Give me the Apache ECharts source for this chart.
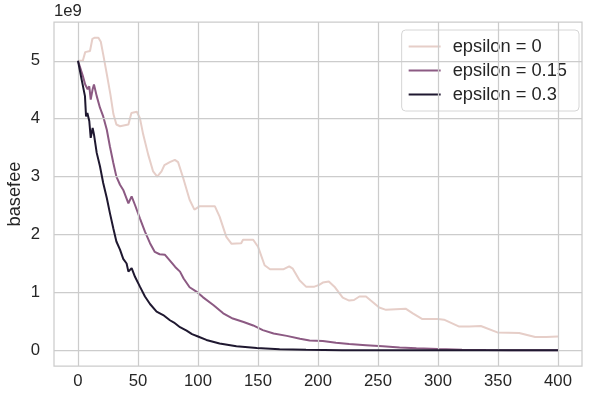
<!DOCTYPE html>
<html>
<head>
<meta charset="utf-8">
<script src="https://cdn.jsdelivr.net/npm/echarts@6/dist/echarts.min.js"></script>
<style>html,body{margin:0;padding:0;background:#fff}#c{width:600px;height:394px}</style>
</head>
<body>
<div id="c"></div>
<script>
// Data (basefee in units of 1e9)
const seriesNames = ['epsilon = 0', 'epsilon = 0.15', 'epsilon = 0.3'];
const xTicks = [0, 50, 100, 150, 200, 250, 300, 350, 400];
const yTicks = [0, 1, 2, 3, 4, 5];

const eps0X = [0, 4, 6, 10, 12, 14, 17, 19, 21, 24, 27, 29.5, 32, 35, 42, 44.5, 49, 51.6, 54.3, 58.5, 62.6, 66, 69.6, 72, 76.5, 80.7, 83.4, 87.6, 93, 97, 101.5, 114, 118, 123.6, 128, 136, 137.5, 146, 150, 155.5, 160, 171, 176, 179, 184.6, 190, 197, 201, 204, 209, 213.7, 220.6, 226, 230, 234.5, 240, 244, 251, 256.7, 273, 279, 287, 300, 305, 317.7, 326, 335.7, 349.5, 367.6, 381, 390, 400];
const eps0Y = [5.0, 5.0, 5.15, 5.17, 5.38, 5.4, 5.4, 5.33, 5.11, 4.77, 4.42, 4.08, 3.9, 3.87, 3.9, 4.1, 4.12, 4.01, 3.73, 3.38, 3.09, 3.0, 3.09, 3.2, 3.25, 3.29, 3.25, 2.98, 2.6, 2.43, 2.49, 2.49, 2.31, 1.96, 1.84, 1.85, 1.91, 1.91, 1.79, 1.47, 1.40, 1.40, 1.45, 1.41, 1.21, 1.10, 1.10, 1.13, 1.17, 1.19, 1.10, 0.91, 0.86, 0.87, 0.93, 0.93, 0.86, 0.74, 0.70, 0.72, 0.64, 0.54, 0.54, 0.53, 0.41, 0.41, 0.42, 0.31, 0.30, 0.23, 0.23, 0.24];

const eps15X = [0, 4, 6, 8, 9.4, 10.6, 12.2, 13.3, 15.6, 18.3, 21, 24, 26.6, 29.4, 32, 35, 37.7, 42, 44.7, 47.5, 51.6, 55.8, 60, 64, 68, 72.5, 76.6, 81, 85, 88, 93, 99, 104, 113, 121, 129, 138, 146, 154, 163, 174, 185, 193, 204, 215, 226, 240, 254, 268, 282, 300, 320, 340, 360, 380, 400];
const eps15Y = [5.0, 4.74, 4.59, 4.51, 4.56, 4.33, 4.51, 4.59, 4.39, 4.19, 4.04, 3.81, 3.52, 3.24, 3.0, 2.86, 2.77, 2.54, 2.66, 2.51, 2.28, 2.05, 1.85, 1.70, 1.66, 1.65, 1.55, 1.44, 1.36, 1.24, 1.09, 1.01, 0.92, 0.78, 0.64, 0.55, 0.49, 0.43, 0.35, 0.29, 0.25, 0.20, 0.17, 0.16, 0.13, 0.11, 0.09, 0.07, 0.05, 0.035, 0.022, 0.012, 0.007, 0.004, 0.002, 0.001];

const eps30X = [0, 3, 5.8, 6.7, 7.8, 9.4, 10.6, 12.2, 13.3, 15.6, 18.3, 21, 24, 26.6, 29.4, 32, 35, 37.7, 40.5, 42, 44.7, 47.5, 51.6, 55.8, 60, 65.5, 71, 76.6, 80, 85, 90.5, 95, 100, 107, 118, 132, 149, 168, 190, 220, 260, 300, 400];
const eps30Y = [5.0, 4.68, 4.39, 4.04, 4.1, 3.96, 3.67, 3.84, 3.73, 3.41, 3.18, 2.89, 2.63, 2.37, 2.11, 1.88, 1.74, 1.58, 1.5, 1.36, 1.42, 1.27, 1.10, 0.93, 0.8, 0.67, 0.61, 0.52, 0.48, 0.40, 0.34, 0.28, 0.24, 0.18, 0.12, 0.07, 0.04, 0.02, 0.01, 0.004, 0.001, 0.0005, 0];

const colors = ['#e6cec8', '#8c5a83', '#1f1830'];
const textColor = '#262626';
const font = 'Liberation Sans, Arial, sans-serif';

function pairs(xs, ys) { return xs.map((x, i) => [x, ys[i]]); }

const chart = echarts.init(document.getElementById('c'), null, {renderer: 'canvas'});
const gridLines = xTicks.map(v => ({xAxis: v})).concat(yTicks.map(v => ({yAxis: v})));

chart.setOption({
  animation: false,
  backgroundColor: '#ffffff',
  grid: {left: 54, right: 18, top: 22, bottom: 28, containLabel: false, outerBoundsMode: 'none',
         show: true, borderColor: '#cccccc', borderWidth: 1.25, backgroundColor: 'transparent'},
  graphic: [{type: 'text', left: 54, top: 3, style: {text: '1e9', fontSize: 16.7, fontFamily: font, fill: textColor}}],
  xAxis: {
    type: 'value', min: -20, max: 420,
    axisLine: {show: false}, axisTick: {show: false}, splitLine: {show: false},
    axisLabel: {customValues: xTicks, fontSize: 16.7, fontFamily: font, color: textColor, margin: 7}
  },
  yAxis: {
    type: 'value', min: -0.27, max: 5.67,
    name: 'basefee', nameLocation: 'middle', nameGap: 30, nameMoveOverlap: false,
    nameTextStyle: {fontSize: 18.3, fontFamily: font, color: textColor},
    axisLine: {show: false}, axisTick: {show: false}, splitLine: {show: false},
    axisLabel: {customValues: yTicks, fontSize: 16.7, fontFamily: font, color: textColor, margin: 14}
  },
  legend: {
    data: seriesNames, orient: 'vertical', right: 21, top: 30,
    icon: 'rect', itemWidth: 32, itemHeight: 2, itemGap: 3,
    padding: [6, 12, 6, 7],
    backgroundColor: 'rgba(255,255,255,0.85)', borderColor: '#d6d6d6', borderWidth: 1, borderRadius: 4,
    textStyle: {fontSize: 18.3, fontFamily: font, color: textColor, padding: [0, 0, 0, 7], lineHeight: 21}
  },
  series: [
    {type: 'line', name: '_grid', data: [], silent: true, z: 1, showSymbol: false,
     markLine: {silent: true, symbol: ['none', 'none'], label: {show: false}, animation: false,
       lineStyle: {color: '#cccccc', width: 1.25, type: 'solid'}, emphasis: {disabled: true}, data: gridLines}},
    {type: 'line', name: seriesNames[0], data: pairs(eps0X, eps0Y), showSymbol: false, z: 3, color: colors[0], lineStyle: {color: colors[0], width: 2}},
    {type: 'line', name: seriesNames[1], data: pairs(eps15X, eps15Y), showSymbol: false, z: 4, color: colors[1], lineStyle: {color: colors[1], width: 2}},
    {type: 'line', name: seriesNames[2], data: pairs(eps30X, eps30Y), showSymbol: false, z: 5, color: colors[2], lineStyle: {color: colors[2], width: 2}}
  ]
});
</script>
</body>
</html>
